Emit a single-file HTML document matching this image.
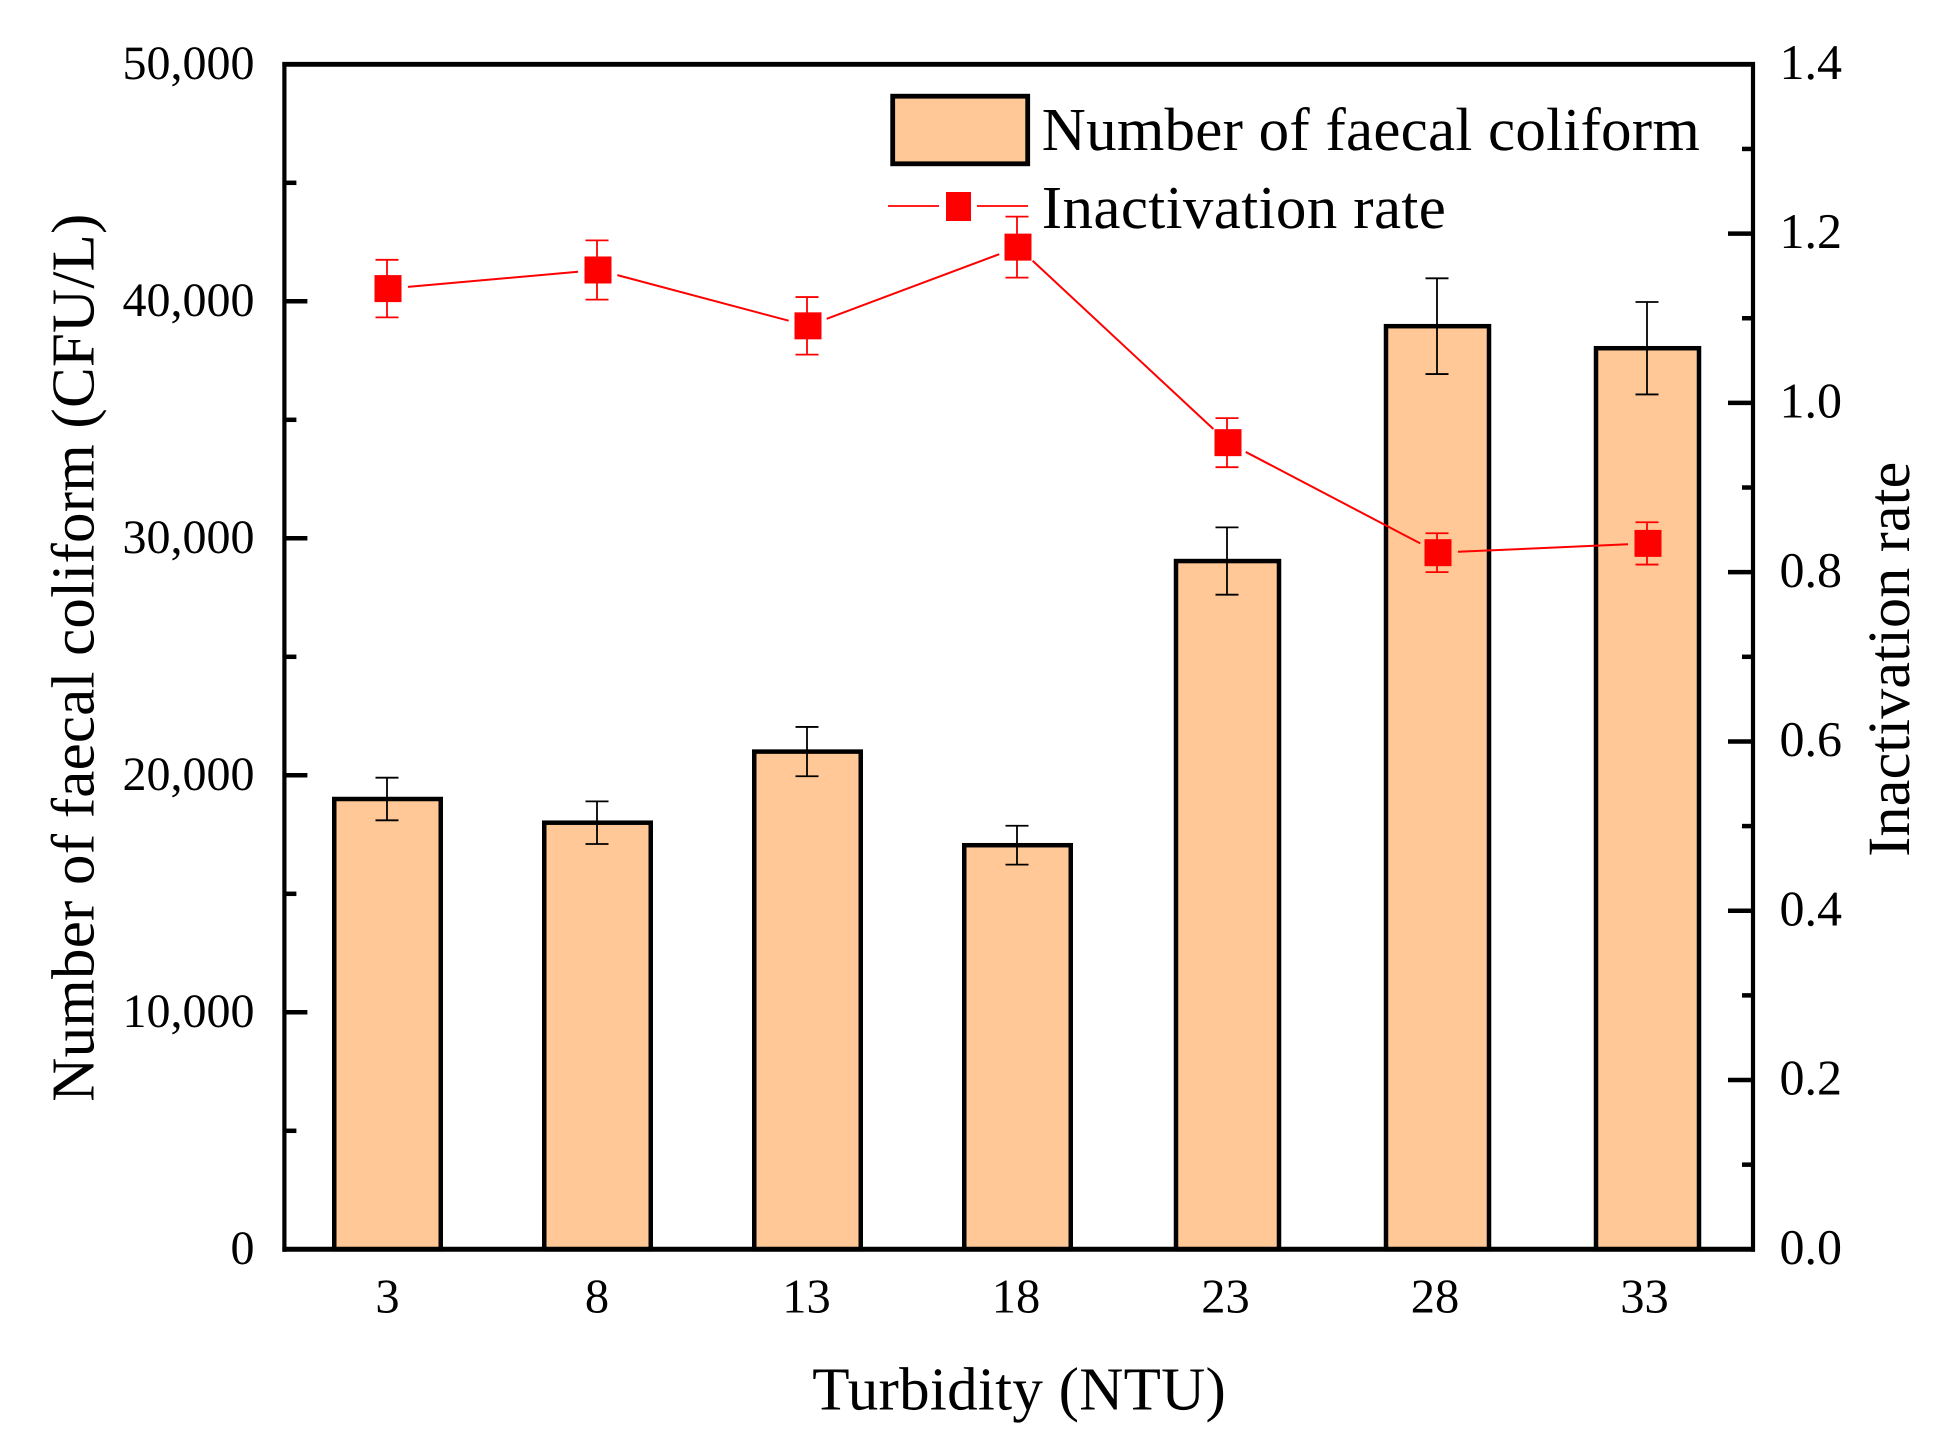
<!DOCTYPE html>
<html lang="en">
<head>
<meta charset="utf-8">
<title>Faecal coliform and inactivation rate versus turbidity</title>
<style>
html,body{margin:0;padding:0;background:#fff;width:1948px;height:1447px;overflow:hidden}
svg{display:block}
text{font-family:"Liberation Serif",serif;fill:#000;text-rendering:geometricPrecision}
</style>
</head>
<body>
<svg id="chart" xmlns="http://www.w3.org/2000/svg" width="1948" height="1447" viewBox="0 0 1948 1447">
  <rect x="0" y="0" width="1948" height="1447" fill="#fff"/>
  <g id="bars"></g>
  <g id="barErrors"></g>
  <g id="axes">
    <line x1="282.4" y1="64.3" x2="1755" y2="64.3" stroke="#000" stroke-width="4.8"/>
    <line x1="282.4" y1="1249.3" x2="1755" y2="1249.3" stroke="#000" stroke-width="5"/>
    <line x1="284.4" y1="62" x2="284.4" y2="1251.8" stroke="#000" stroke-width="4.2"/>
    <line x1="1753" y1="62" x2="1753" y2="1251.8" stroke="#000" stroke-width="4.2"/>
  </g>
  <g id="rateLine"></g>
  <g id="rateErrors"></g>
  <g id="rateMarkers"></g>
  <g id="tickLabels"></g>

  <text transform="translate(93.3 1101.7) rotate(-90)" font-size="61" textLength="888" lengthAdjust="spacing">Number of faecal coliform (CFU/L)</text>
  <text transform="translate(1909 856.7) rotate(-90)" font-size="60" textLength="395" lengthAdjust="spacing">Inactivation rate</text>
  <text x="812.3" y="1409.3" font-size="61" textLength="413.5" lengthAdjust="spacing">Turbidity (NTU)</text>

  <g>
    <rect x="892.7" y="96.2" width="135" height="67.6" fill="#FFC896" stroke="#000" stroke-width="4.8"/>
    <text x="1041.8" y="150" font-size="61" textLength="658" lengthAdjust="spacing">Number of faecal coliform</text>
    <line x1="888" y1="206" x2="939" y2="206" stroke="#f00" stroke-width="1.8"/>
    <line x1="977" y1="206" x2="1028" y2="206" stroke="#f00" stroke-width="1.8"/>
    <rect x="946" y="192" width="25" height="29" fill="#f00"/>
    <text x="1041.8" y="228" font-size="61" textLength="404" lengthAdjust="spacing">Inactivation rate</text>
  </g>
</svg>
<script>
const categories = ['3', '8', '13', '18', '23', '28', '33'];
const faecalValues = [19000, 18000, 21000, 17050, 29040, 38950, 38020];
const faecalErrors = [900, 900, 1040, 820, 1420, 2020, 1950];
const rateValues = [1.135, 1.157, 1.091, 1.184, 0.953, 0.823, 0.834];
const rateErrors = [0.034, 0.035, 0.034, 0.036, 0.029, 0.023, 0.025];
const leftMajorTicks = [0, 10000, 20000, 30000, 40000, 50000];
const leftMinorTicks = [5000, 15000, 25000, 35000, 45000];
const leftTickLabels = ['0', '10,000', '20,000', '30,000', '40,000', '50,000'];
const rightMajorTicks = [0, 0.2, 0.4, 0.6, 0.8, 1.0, 1.2, 1.4];
const rightMinorTicks = [0.1, 0.3, 0.5, 0.7, 0.9, 1.1, 1.3];
const rightTickLabels = ['0.0', '0.2', '0.4', '0.6', '0.8', '1.0', '1.2', '1.4'];

const NS = 'http://www.w3.org/2000/svg';
const plotLeft = 284.4, plotRight = 1753, plotTop = 64.3, plotBottom = 1249.3;
const leftMax = 50000, rightMax = 1.4;

function xPos(i) { return 388 + 210 * i; }
function xLabelPos(i) { return 387.5 + 209.5 * i; }
function yLeft(v) { return plotBottom - (v / leftMax) * (plotBottom - plotTop); }
function yRight(v) { return plotBottom - (v / rightMax) * (plotBottom - plotTop); }
function make(tag, attrs, parentId) {
  const node = document.createElementNS(NS, tag);
  for (const k in attrs) node.setAttribute(k, attrs[k]);
  document.getElementById(parentId).appendChild(node);
  return node;
}

categories.forEach(function (cat, i) {
  const cx = xPos(i) - 0.5;
  const w = i < 4 ? 106.5 : 103;
  const top = yLeft(faecalValues[i]);
  const bar = make('rect', { x: cx - w / 2, y: top, width: w, height: plotBottom - top, fill: '#FFC896', stroke: '#000', 'stroke-width': 4.5 }, 'bars');
  
  

  const hi = yLeft(faecalValues[i] + faecalErrors[i]);
  const lo = yLeft(faecalValues[i] - faecalErrors[i]);
  const sx = xPos(i) - 1;
  const stem = make('line', { x1: sx, x2: sx, y1: hi, y2: lo, stroke: '#000', 'stroke-width': 1.8 }, 'barErrors');
  
  
  const capTop = make('line', { x1: sx - 11.5, x2: sx + 11.5, y1: hi, y2: hi, stroke: '#000', 'stroke-width': 1.8 }, 'barErrors');
  
  
  const capBottom = make('line', { x1: sx - 11.5, x2: sx + 11.5, y1: lo, y2: lo, stroke: '#000', 'stroke-width': 1.8 }, 'barErrors');
  
  

  const label = make('text', { x: xLabelPos(i), y: 1312.3, 'font-size': 48.5, 'text-anchor': 'middle' }, 'tickLabels');
  label.textContent = cat;
  
  
});

leftMajorTicks.forEach(function (v, i) {
  const y = yLeft(v);
  if (v > 0 && v < leftMax) {
    const t = make('line', { x1: plotLeft, x2: plotLeft + 23, y1: y, y2: y, stroke: '#000', 'stroke-width': 4.5 }, 'axes');
    
    
  }
  const label = make('text', { x: 254.5, y: y + 14.6, 'font-size': 48, 'text-anchor': 'end' }, 'tickLabels');
  label.textContent = leftTickLabels[i];
  
  
});
leftMinorTicks.forEach(function (v) {
  const y = yLeft(v);
  const t = make('line', { x1: plotLeft, x2: plotLeft + 12, y1: y, y2: y, stroke: '#000', 'stroke-width': 4.5 }, 'axes');
  
  
});
rightMajorTicks.forEach(function (v, i) {
  const y = yRight(v);
  if (v > 0 && v < rightMax) {
    const t = make('line', { x1: plotRight, x2: plotRight - 25, y1: y, y2: y, stroke: '#000', 'stroke-width': 4.5 }, 'axes');
    
    
  }
  const label = make('text', { x: 1842, y: y + 14.6, 'font-size': 50, 'text-anchor': 'end' }, 'tickLabels');
  label.textContent = rightTickLabels[i];
  
  
});
rightMinorTicks.forEach(function (v) {
  const y = yRight(v);
  const t = make('line', { x1: plotRight, x2: plotRight - 11, y1: y, y2: y, stroke: '#000', 'stroke-width': 4.5 }, 'axes');
  
  
});

const markerGap = 20;
rateValues.forEach(function (v, i) {
  const cx = xPos(i), cy = yRight(v);
  if (i < rateValues.length - 1) {
    const nx = xPos(i + 1), ny = yRight(rateValues[i + 1]);
    const d = Math.hypot(nx - cx, ny - cy);
    const ux = (nx - cx) / d, uy = (ny - cy) / d;
    const seg = make('line', { x1: cx + ux * markerGap, y1: cy + uy * markerGap, x2: nx - ux * markerGap, y2: ny - uy * markerGap, stroke: '#f00', 'stroke-width': 2 }, 'rateLine');
    
    
  }
  const hi = yRight(v + rateErrors[i]);
  const lo = yRight(v - rateErrors[i]);
  const sx = cx - 1;
  const stem = make('line', { x1: sx, x2: sx, y1: hi, y2: lo, stroke: '#f00', 'stroke-width': 1.8 }, 'rateErrors');
  
  
  const capTop = make('line', { x1: sx - 11.5, x2: sx + 11.5, y1: hi, y2: hi, stroke: '#f00', 'stroke-width': 1.8 }, 'rateErrors');
  
  
  const capBottom = make('line', { x1: sx - 11.5, x2: sx + 11.5, y1: lo, y2: lo, stroke: '#f00', 'stroke-width': 1.8 }, 'rateErrors');
  
  
  const m = make('rect', { x: cx - 13.5, y: cy - 13.5, width: 27, height: 27, fill: '#f00' }, 'rateMarkers');
  
  
});
</script>
</body>
</html>
